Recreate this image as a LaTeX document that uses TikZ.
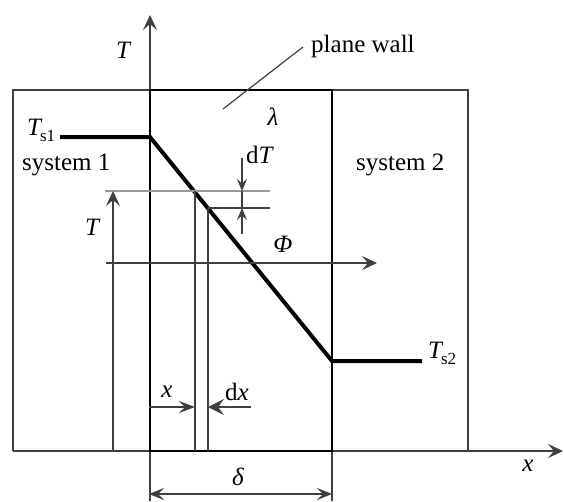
\documentclass[tikz,border=0pt]{standalone}
\usepackage{fontspec}
\setmainfont{Liberation Serif}
\usetikzlibrary{arrows.meta}
\begin{document}
\begin{tikzpicture}[x=1pt,y=-1pt,
  thinl/.style={line width=1.2pt, black!75},
  greyl/.style={line width=1.2pt, black!40},
  wallline/.style={line width=2pt},
  profile/.style={line width=4pt},
  tip/.style={-{Stealth[length=15pt,width=14pt,inset=6pt]}},
  xtip/.style={-{Stealth[length=16pt,width=12pt,inset=6pt]}},
  dxtip/.style={-{Stealth[length=16pt,width=16pt,inset=6pt]}},
  stip/.style={-{Stealth[length=12pt,width=10pt,inset=4.5pt]}},
  both/.style={{Stealth[length=15pt,width=12pt,inset=6pt]}-{Stealth[length=15pt,width=12pt,inset=6pt]}},
  lbl/.style={font=\fontsize{25}{28}\selectfont, inner sep=0pt}
]
\useasboundingbox (0,0) rectangle (564,501);
% coordinates
\coordinate (O) at (150,451);
\coordinate (Ttip) at (150,15);
\coordinate (Tbot) at (150,501);
\coordinate (Xl) at (13,451);
\coordinate (Xtip) at (563,451);
\coordinate (BL) at (13,90);
\coordinate (BR) at (468,90);
\coordinate (BRb) at (468,451);
\coordinate (WTL) at (150,90);
\coordinate (WTR) at (332,90);
\coordinate (WBR) at (332,451);
\coordinate (WBRe) at (332,501);
\coordinate (P0) at (60,137);
\coordinate (P1) at (150,137);
\coordinate (P2) at (332,361);
\coordinate (P3) at (422,361);
\coordinate (L1a) at (105,191);
\coordinate (L1b) at (270,191);
\coordinate (L2a) at (208,208);
\coordinate (L2b) at (270,208);
\coordinate (V1b) at (195,451);
\coordinate (V1t) at (195,191);
\coordinate (V2b) at (208,451);
\coordinate (Tb) at (113,451);
\coordinate (Tt) at (113,191);
\coordinate (dTa) at (242,158);
\coordinate (dTa2) at (242,191);
\coordinate (dTb) at (242,234);
\coordinate (dTb2) at (242,208);
\coordinate (F0) at (106,263);
\coordinate (F1) at (377,263);
\coordinate (xa0) at (149,407);
\coordinate (xa1) at (195,407);
\coordinate (dx0) at (251,407);
\coordinate (dx1) at (208,407);
\coordinate (d0) at (149,494);
\coordinate (d1) at (332,494);
\coordinate (lw0) at (303,47);
\coordinate (lw1) at (223,109);

% outer boxes and axes
\draw[thinl] (Xl) -- (BL) -- (BR) -- (BRb);
\draw[thinl,tip] (Xl) -- (Xtip);
\draw[thinl,tip] (Tbot) -- (Ttip);
\draw[thinl] (WBR) -- (WBRe);
% wall
\draw[wallline] (O) -- (WTL) -- (WTR) -- (WBR) -- cycle;
% profile
\draw[profile] (P0) -- (P1) -- (P2) -- (P3);
% element lines
\draw[greyl] (L1a) -- (L1b);
\draw[thinl] (L2a) -- (L2b);
\draw[thinl] (V1t) -- (V1b);
\draw[thinl] (L2a) -- (V2b);
\draw[thinl,tip] (Tb) -- (Tt);
\draw[thinl,stip] (dTa) -- (dTa2);
\draw[thinl,stip] (dTb) -- (dTb2);
\draw[thinl] (dTa2) -- (dTb2);
\draw[thinl,tip] (F0) -- (F1);
\draw[thinl,xtip] (xa0) -- (xa1);
\draw[thinl,dxtip] (dx0) -- (dx1);
\draw[thinl,both] (d0) -- (d1);
\draw[thinl] (lw0) -- (lw1);

% labels
\node[lbl] (Tax) at (123,50) {\itshape T};
\node[lbl,anchor=base west] (pw) at (311,52) {plane wall};
\node[lbl] (lam) at (273,117) {\itshape λ};
\node[lbl,anchor=base west] (ts1) at (27,135) {\itshape T\kern-1pt\raisebox{-6pt}{\upshape\fontsize{17}{17}\selectfont s1}};
\node[lbl,anchor=base west] (s1) at (22,170) {system 1};
\node[lbl,anchor=base west] (s2) at (356,170) {system 2};
\node[lbl,anchor=base west] (dT) at (246,163) {d\itshape T};
\node[lbl] (Tl) at (92,227) {\itshape T};
\node[lbl] (phi) at (283,244) {\itshape Φ};
\node[lbl] (xl) at (167,392) {\itshape x};
\node[lbl] (dxl) at (237,392) {d\itshape x};
\node[lbl] (del) at (238,477) {\itshape δ};
\node[lbl] (xax) at (528,466) {\itshape x};
\node[lbl,anchor=base west] (ts2) at (428,358) {\itshape T\kern-1pt\raisebox{-6pt}{\upshape\fontsize{17}{17}\selectfont s2}};
\end{tikzpicture}
\end{document}
